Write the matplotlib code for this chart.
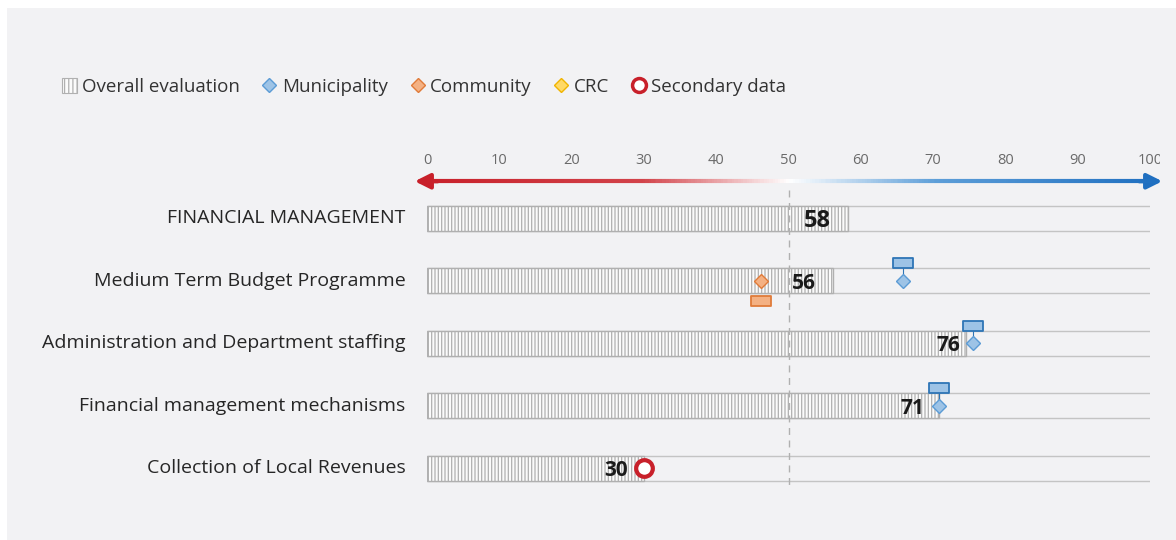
import numpy as np
import matplotlib
matplotlib.use("Agg")
import matplotlib.pyplot as plt
from matplotlib.patches import Patch, Rectangle
from matplotlib.lines import Line2D
from matplotlib.path import Path
from matplotlib.collections import LineCollection
from matplotlib.colors import LinearSegmentedColormap

# data
rows = ["FINANCIAL MANAGEMENT", "Medium Term Budget Programme",
        "Administration and Department staffing",
        "Financial management mechanisms", "Collection of Local Revenues"]
overall = [58.2, 56.2, 74.6, 70.8, 30]
overall_labels = [58, 56, 76, 71, 30]
muni_rows = [1, 2, 3]
muni_vals = [65.8, 75.5, 70.8]
comm_rows = [1]
comm_vals = [46.2]
sec_rows = [4]
sec_vals = [30]
ticks = [0, 10, 20, 30, 40, 50, 60, 70, 80, 90, 100]

bg = "#f2f2f4"
blue_fill, blue_edge = "#9dc3e6", "#2e75b6"
orange_fill, orange_edge = "#f4b183", "#e07b39"
red = "#c8202a"
blue = "#1f6fc0"
plt.rcParams['font.family'] = ['Open Sans', 'DejaVu Sans']
plt.rcParams['hatch.linewidth'] = 0.9

fig = plt.figure(figsize=(11.76, 5.4), dpi=100)
fig.patch.set_facecolor("white")
fig.patches.append(Rectangle((7/1176, 0), 1, 1 - 8/540, transform=fig.transFigure,
                             facecolor=bg, edgecolor="none", zorder=-10))

ax = fig.add_axes([427/1176, 1 - 499.4/540, 723/1176, 359.4/540])
ax.set_xlim(0, 100)
ax.set_ylim(4.5, -1.25)
ax.axis("off")

y = np.arange(len(rows))
h = 0.4

# empty track 0..100
ax.hlines(y - h/2, 0, 100, color="#c4c4c4", lw=1, zorder=1)
ax.hlines(y + h/2, 0, 100, color="#c4c4c4", lw=1, zorder=1)

# hatched overall bars
ax.barh(y, overall, height=h, color="#fbfbfb", edgecolor="#b0b0b0",
        hatch="|||||", lw=1, zorder=2)

# dashed 50 line
ax.vlines(50, -0.45, 4.35, color="#b0b0b0", lw=1, linestyles=(0, (5, 4)), zorder=3)

# row labels
for i, name in enumerate(rows):
    ax.text(-3, i, name, ha="right", va="center", fontsize=14, color="#262626")

# value labels
for i, lab in enumerate(overall_labels):
    ax.annotate(str(lab), (lab, i), xytext=(-11.5, -2), textcoords="offset points",
                ha="right", va="center", fontsize=17 if i == 0 else 15,
                fontweight="bold", color="#1a1a1a", zorder=6)

# top scale
for t in ticks:
    tx = ax.text(t, -0.93, str(t), ha="center", va="center", fontsize=10.5, color="#6a6a6a")
    tx.set_clip_on(True)
    tx.set_clip_box(matplotlib.transforms.Bbox([[0, 0], [1160, 540]]))

# gradient arrow
cmap = LinearSegmentedColormap.from_list(
    "rb", [(0, red), (0.3, "#d2434a"), (0.5, "#ffffff"), (0.7, "#5d9ed8"), (1, blue)])
xs = np.linspace(-1.0, 101.0, 400)
segs = [[(xs[k], -0.59), (xs[k + 1], -0.59)] for k in range(len(xs) - 1)]
lc = LineCollection(segs, colors=cmap((xs[:-1] + 1) / 102), lw=3, clip_on=False, zorder=4)
ax.add_collection(lc)
ax.annotate("", xy=(-1.7, -0.59), xytext=(1.5, -0.59),
            arrowprops=dict(arrowstyle="-|>,head_length=0.9,head_width=0.45",
                            color=red, lw=3, shrinkA=0, shrinkB=0), annotation_clip=False)
ax.annotate("", xy=(101.7, -0.59), xytext=(98.5, -0.59),
            arrowprops=dict(arrowstyle="-|>,head_length=0.9,head_width=0.45",
                            color=blue, lw=3, shrinkA=0, shrinkB=0), annotation_clip=False)

# rectangle marker for the small label boxes
rect = Path([(-1, -0.55), (1, -0.55), (1, 0.55), (-1, 0.55), (-1, -0.55)],
            [Path.MOVETO, Path.LINETO, Path.LINETO, Path.LINETO, Path.CLOSEPOLY])

for r, v in zip(muni_rows, muni_vals):
    ax.plot([v, v], [r - 0.28, r], color=blue_edge, lw=0.8, zorder=5)
    ax.plot(v, r - 0.28, marker=rect, ms=14, mfc=blue_fill, mec=blue_edge, mew=1.3, zorder=6)
    ax.plot(v, r, marker="D", ms=7, mfc=blue_fill, mec="#5b9bd5", mew=1, zorder=6)

for r, v in zip(comm_rows, comm_vals):
    ax.plot(v, r + 0.32, marker=rect, ms=14, mfc=orange_fill, mec=orange_edge, mew=1.3, zorder=6)
    ax.plot(v, r, marker="D", ms=7, mfc=orange_fill, mec=orange_edge, mew=1, zorder=6)

for r, v in zip(sec_rows, sec_vals):
    ax.plot(v, r, marker="o", ms=12, mfc="white", mec=red, mew=3, zorder=6)

# legend
handles = [
    Patch(facecolor="#fbfbfb", edgecolor="#b0b0b0", hatch="||||", lw=0.8),
    Line2D([], [], ls="none", marker="D", ms=7, mfc=blue_fill, mec="#5b9bd5"),
    Line2D([], [], ls="none", marker="D", ms=7, mfc=orange_fill, mec=orange_edge),
    Line2D([], [], ls="none", marker="D", ms=7, mfc="#ffd966", mec="#f0b400"),
    Line2D([], [], ls="none", marker="o", ms=10, mfc="white", mec=red, mew=2.5),
]
labels = ["Overall evaluation", "Municipality", "Community", "CRC", "Secondary data"]
fig.legend(handles, labels, loc="center left", bbox_to_anchor=(45/1176, 1 - 87/540),
           ncol=5, frameon=False, handlelength=0.8, handleheight=0.9, handletextpad=0.25,
           columnspacing=1.2, prop={"size": 13.5}, labelcolor="#333333")

fig.savefig("out.png", dpi=100, facecolor=fig.get_facecolor())
